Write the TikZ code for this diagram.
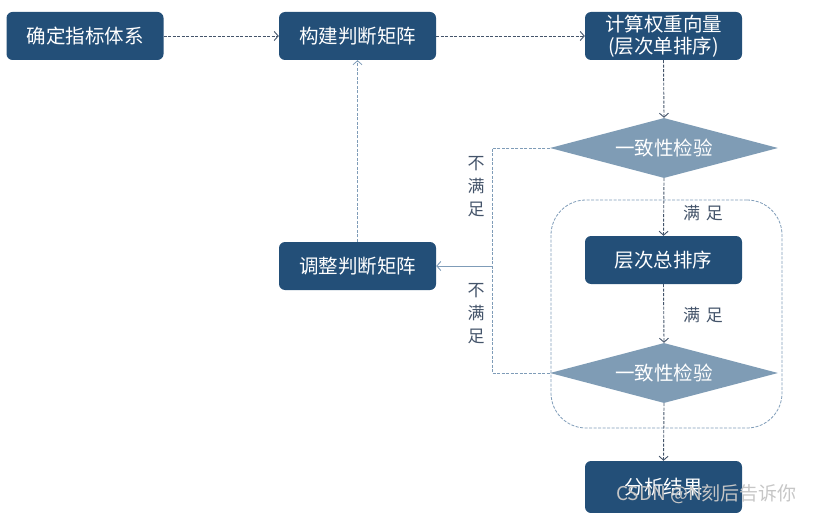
\documentclass[tikz,border=0pt]{standalone}
\usepackage{fontspec}
\setmainfont{Noto Sans CJK SC}
\usetikzlibrary{arrows.meta,shapes.geometric}
\definecolor{boxblue}{HTML}{234F78}
\definecolor{diablue}{HTML}{7F9CB5}
\definecolor{lineg}{HTML}{44546A}
\definecolor{lineb}{HTML}{7F9CB8}
\tikzset{
  stepbox/.style={draw=none, fill=boxblue, rounded corners=6pt, minimum width=157pt, minimum height=48pt, text=white, inner sep=0pt, align=center, font=\fontsize{19.5}{22}\selectfont},
  checkbox/.style={shape=diamond, fill=diablue, minimum width=228pt, minimum height=60pt, aspect=3.8, inner sep=0pt, text=white, font=\fontsize{19.5}{22}\selectfont},
  mainline/.style={draw=lineg, line width=0.9pt, dash pattern=on 3pt off 1.5pt, -{Straight Barb[length=4pt,width=9pt]}},
  loopline/.style={draw=lineb, line width=0.8pt, dash pattern=on 3pt off 1.5pt},
  lbl/.style={text=lineg, font=\fontsize{17}{23}\selectfont, align=center, inner sep=0pt},
}
\begin{document}
\begin{tikzpicture}[x=1pt, y=-1pt]
\useasboundingbox (0,0) rectangle (818,513);
\node[stepbox] (b1) at (85,36) {确定指标体系};
\node[stepbox] (b2) at (357.5,36) {构建判断矩阵};
\node[stepbox] (b3) at (663.5,36) {计算权重向量\\(层次单排序)};
\node[checkbox] (d1) at (664,148) {一致性检验};
\node[draw=lineb, line width=0.8pt, dash pattern=on 3pt off 1.5pt, rounded corners=35pt, minimum width=231pt, minimum height=228pt, inner sep=0pt] (grp) at (666.5,314) {};
\node[stepbox] (b4) at (663.5,260) {层次总排序};
\node[checkbox] (d2) at (664,373) {一致性检验};
\node[stepbox, minimum height=52pt] (b5) at (663.5,487) {分析结果};
\node[stepbox] (b6) at (357.5,266) {调整判断矩阵};
\draw[mainline] (b1.east) -- (b2.west);
\draw[mainline] (b2.east) -- (b3.west);
\draw[mainline] (b3.south) -- (d1.north);
\draw[mainline] (d1.south) -- (b4.north);
\draw[mainline] (b4.south) -- (d2.north);
\draw[mainline] (d2.south) -- (b5.north);
\coordinate (lt) at (492,148);
\coordinate (lj) at (492,266);
\draw[loopline] (d1.west) -- (lt) |- (d2.west);
\draw[draw=lineb, line width=0.9pt, -{Straight Barb[length=4pt,width=9pt]}] (lj) -- (b6.east);
\draw[loopline, -{Straight Barb[length=4pt,width=9pt]}] (b6.north) -- (b2.south);
\node[lbl] (s1) at (703,213) {满\hspace{6pt}足};
\node[lbl] (s2) at (703,315) {满\hspace{6pt}足};
\node[lbl] (n1) at (476,187) {不\\满\\足};
\node[lbl] (n2) at (476,314) {不\\满\\足};
\node[text=gray!45, font=\fontsize{19}{20}\selectfont, inner sep=0pt, anchor=west] (wm) at (616,494) {CSDN @N刻后告诉你};
\end{tikzpicture}
\end{document}
